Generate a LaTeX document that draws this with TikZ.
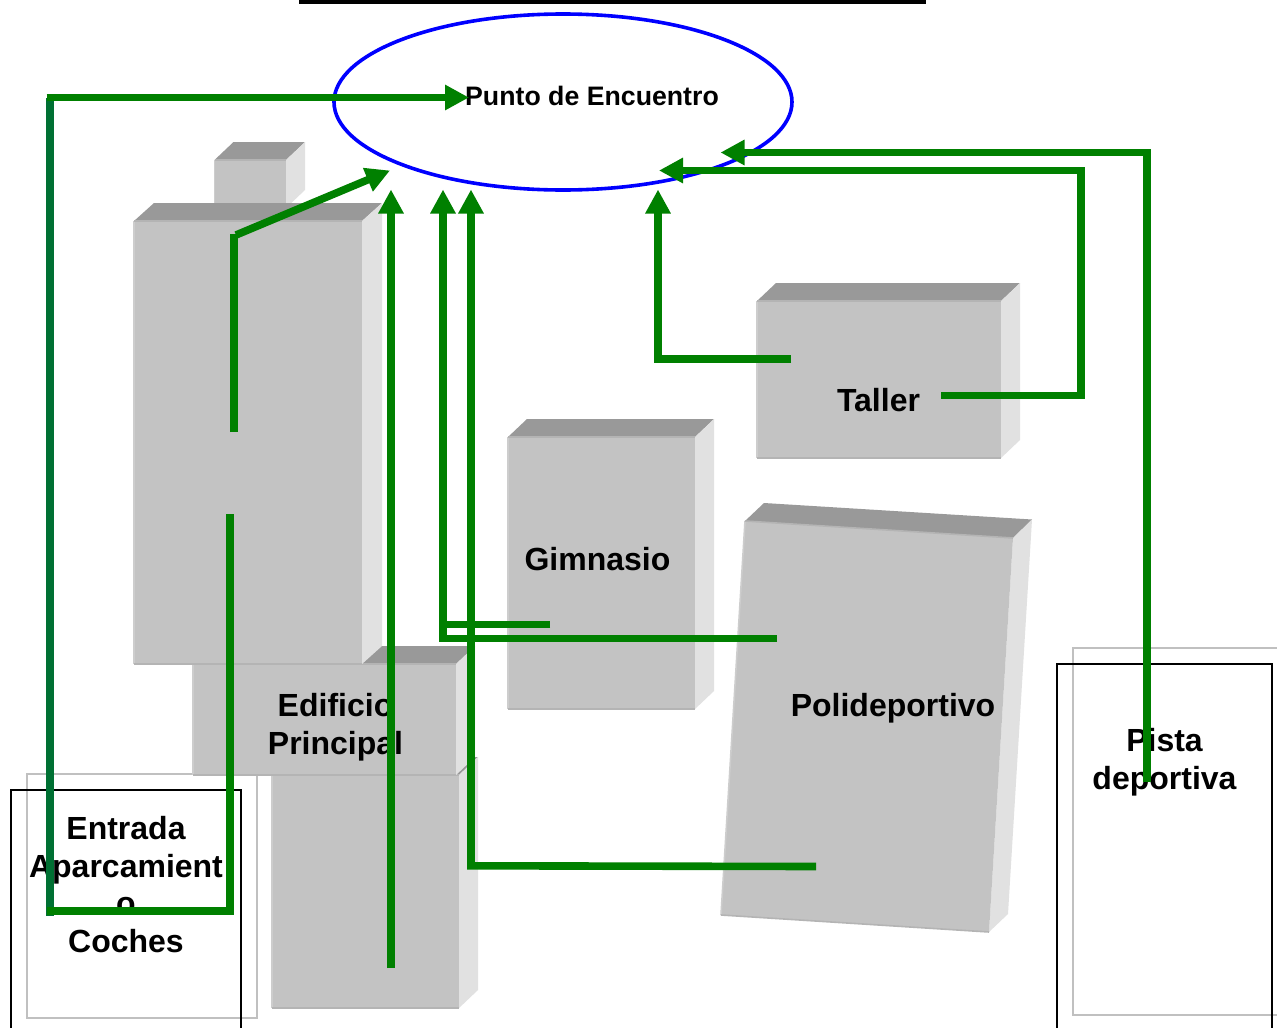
\documentclass[tikz,border=0pt]{standalone}
\usepackage{fontspec}
\setmainfont{Liberation Sans}
\usetikzlibrary{arrows.meta,shapes.geometric}
\definecolor{fronte}{HTML}{C3C3C3}
\definecolor{topface}{HTML}{999999}
\definecolor{sideface}{HTML}{E1E1E1}
\definecolor{edgedark}{HTML}{B4B4B4}
\definecolor{edgelight}{HTML}{CDCDCD}
\definecolor{routegreen}{HTML}{008000}
\definecolor{routedark}{HTML}{007033}
\definecolor{framegray}{HTML}{C0C0C0}
\tikzset{
  x=1pt,y=-1pt,
  frontface/.style={fill=fronte},
  topside/.style={fill=topface},
  rightside/.style={fill=sideface},
  edgeline/.style={draw=edgedark,line width=1.6pt},
  edgeleft/.style={draw=edgelight,line width=1.6pt},
  grayframe/.style={draw=framegray,line width=2pt},
  blackframe/.style={draw=black,line width=2pt},
  label/.style={font=\bfseries\fontsize{32}{37.5}\selectfont,align=center,inner sep=0pt,text=black},
  smalllabel/.style={font=\bfseries\fontsize{26.7}{31}\selectfont,inner sep=0pt,text=black},
  route/.style={draw=routegreen,line width=7.6pt,line join=miter},
  routetip/.style={route,-{Triangle[length=24pt,width=24pt]}},
}
\newcommand{\boxblock}[6]{%
  \fill[topside] (#1,#2) -- ({#1+#5},{#2-#6}) -- ({#3+#5},{#2-#6}) -- (#3,#2) -- cycle;
  \fill[rightside] (#3,#2) -- ({#3+#5},{#2-#6}) -- ({#3+#5},{#4-#6}) -- (#3,#4) -- cycle;
  \fill[frontface] (#1,#2) rectangle (#3,#4);
  \draw[edgeleft] (#1,#2) -- (#1,#4);
  \draw[edgeline] (#1,#2) -- (#3,#2);
  \draw[edgeline] (#1,#4) -- (#3,#4);
}
\begin{document}
\begin{tikzpicture}
\useasboundingbox (0,0) rectangle (1277,1028);
\fill[white] (0,0) rectangle (1277,1028);
\fill[black] (299,0) rectangle (926,4);

% frames
\draw[grayframe] (27,774) rectangle (257,1018);
\draw[blackframe] (241,1030) -- (241,790) -- (11,790) -- (11,1030);
\draw[grayframe] (1279,648) -- (1073,648) -- (1073,1015) -- (1279,1015);
\draw[blackframe] (1272,1030) -- (1272,664) -- (1057,664) -- (1057,1030);

% buildings
\boxblock{214.5}{160}{286}{208}{19}{18}
\boxblock{272}{775}{459}{1008}{19}{18}
\boxblock{193}{664}{456}{775}{19}{18}
\boxblock{134}{221}{362}{664}{20}{18}
\boxblock{508}{437}{695}{709}{19}{18}
\boxblock{757}{301}{1001}{458}{19}{18}
% rotated sports hall
\fill[topside] (745,521) -- (764,503) -- (1032,519.5) -- (1013,538) -- cycle;
\fill[rightside] (1013,538) -- (1032,519.5) -- (1008,914) -- (989,932) -- cycle;
\fill[frontface] (745,521) -- (1013,538) -- (989,932) -- (721,915) -- cycle;
\draw[edgeleft] (745,521) -- (721,915);
\draw[edgeline] (745,521) -- (1013,538);
\draw[edgeline] (721,915) -- (989,932);

% place ellipse and labels
\node[draw=blue,line width=3.6pt,shape=ellipse,minimum width=458pt,minimum height=176pt,inner sep=0pt] (punto) at (563,102) {};
\node[smalllabel] (puntotext) at (592,96) {Punto de Encuentro};
\node[label] (edificio) at (335.5,727) {Edificio\\Principal};
\node[label] (entrada) at (126,884.5) {Entrada\\Aparcamient\\o\\Coches};
\node[label] (gimnasio) at (597.5,559) {Gimnasio};
\node[label] (taller) at (878.5,400) {Taller};
\node[label] (poli) at (893,708) {Polideportivo};
\node[label] (pista) at (1164.5,762) {Pista\\deportiva};

% connector ends
\coordinate (aparkA) at (50,915.5);
\coordinate (aparkB) at (50,97.5);
\coordinate (puntoW) at (469,97.5);
\coordinate (aparkC) at (230,514);
\coordinate (aparkD) at (230,911);
\coordinate (aparkE) at (47,911);
\coordinate (mainA) at (234,432);
\coordinate (mainB) at (234,234);
\coordinate (mainC) at (236,235);
\coordinate (puntoSW) at (390,170.5);
\coordinate (lowerA) at (391,968);
\coordinate (puntoS1) at (391,189.5);
\coordinate (gymA) at (550,624.3);
\coordinate (gymB) at (443,624.3);
\coordinate (poliA) at (777,638.6);
\coordinate (poliB) at (443,638.6);
\coordinate (puntoS2) at (443,189.5);
\coordinate (poliC) at (816,866.5);
\coordinate (poliD) at (471,865.8);
\coordinate (puntoS3) at (471,189.5);
\coordinate (tallerA) at (791,359);
\coordinate (tallerB) at (658,359);
\coordinate (puntoS4) at (658,189.5);
\coordinate (tallerC) at (941,395.5);
\coordinate (tallerD) at (1081,395.5);
\coordinate (tallerE) at (1081,170.5);
\coordinate (puntoSE1) at (659,170.5);
\coordinate (pistaA) at (1147,782);
\coordinate (pistaB) at (1147,152.5);
\coordinate (puntoSE2) at (720.5,152.5);

% connectors
\draw[route,draw=routedark] (aparkA) -- (aparkB);
\draw[routetip] (aparkB) ++(-3.5,0) -- (puntoW);
\draw[route] (aparkC) -- (aparkD) -- (aparkE);
\draw[route] (mainA) -- (mainB);
\draw[routetip] (mainC) -- (puntoSW);
\draw[routetip] (lowerA) -- (puntoS1);
\draw[routetip] (gymA) -- (gymB) -- (puntoS2);
\draw[route] (poliA) -- (poliB) -- (gymB);
\draw[routetip] (poliC) -- (poliD) -- (puntoS3);
\draw[routetip] (tallerA) -- (tallerB) -- (puntoS4);
\draw[routetip] (tallerC) -- (tallerD) -- (tallerE) -- (puntoSE1);
\draw[routetip] (pistaA) -- (pistaB) -- (puntoSE2);
\end{tikzpicture}
\end{document}
